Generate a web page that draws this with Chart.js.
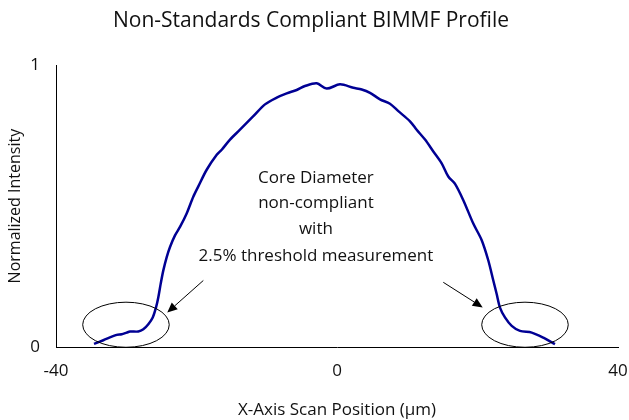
<!DOCTYPE html>
<html>
<head>
<meta charset="utf-8">
<script src="https://cdn.jsdelivr.net/npm/chart.js@4/dist/chart.umd.min.js"></script>
<style>
  html, body { margin: 0; padding: 0; background: #fff; }
  #wrap { width: 629px; height: 420px; }
</style>
</head>
<body>
<div id="wrap"><canvas id="c" width="629" height="420"></canvas></div>
<script>
// ---- data ----
const xPositions = [-34.59, -33.27, -31.36, -30.65, -29.94, -29.47, -28.28, -27.57, -26.86, -26.23,
  -25.77, -25.44, -25.10, -24.73, -24.24, -23.77, -23.06, -22.35, -21.40, -20.46,
  -19.74, -18.55, -17.12, -16.41, -15.23, -13.81, -11.91, -10.25, -8.58, -7.16,
  -5.74, -4.56, -2.89, -1.47, 0.43, 2.32, 3.52, 4.70, 6.12, 7.54,
  8.73, 10.39, 11.34, 12.53, 13.71, 14.90, 15.84, 16.80, 17.98, 19.40,
  20.60, 21.54, 22.25, 22.73, 23.20, 23.91, 24.87, 26.05, 27.72, 29.37, 31.03];
const intensities = [0.011, 0.024, 0.043, 0.045, 0.051, 0.055, 0.055, 0.063, 0.081, 0.105,
  0.140, 0.176, 0.224, 0.271, 0.319, 0.355, 0.396, 0.426, 0.474, 0.533,
  0.570, 0.629, 0.682, 0.700, 0.736, 0.771, 0.819, 0.861, 0.885, 0.900,
  0.912, 0.926, 0.936, 0.917, 0.932, 0.920, 0.914, 0.902, 0.879, 0.863,
  0.837, 0.801, 0.771, 0.736, 0.694, 0.652, 0.605, 0.579, 0.521, 0.438,
  0.379, 0.307, 0.236, 0.188, 0.140, 0.105, 0.075, 0.057, 0.051, 0.033, 0.010];
const xTickValues = [-40, 0, 40];
const yTickValues = [0, 1];
const chartTitle = 'Non-Standards Compliant BIMMF Profile';
const xAxisTitle = 'X-Axis Scan Position (µm)';
const yAxisTitle = 'Normalized Intensity';
const annotationLines = ['Core Diameter', 'non-compliant', 'with', '2.5% threshold measurement'];

// ---- annotation geometry (data units) ----
const annotationTextX = -3;
const annotationTextY = [0.600, 0.511, 0.418, 0.321];
const ellipses = [
  { cx: -30.04, cy: 0.079, rx: 6.16, ry: 0.080 },
  { cx: 26.76, cy: 0.079, rx: 6.16, ry: 0.080 }
];
const arrows = [
  { x1: -19.03, y1: 0.236, x2: -24.16, y2: 0.1225 },
  { x1: 15.13, y1: 0.2296, x2: 20.74, y2: 0.1404 }
];

const FONT = "'Open Sans', 'Noto Sans', sans-serif";

const points = xPositions.map((x, i) => ({ x: x, y: intensities[i] }));

const annotationPlugin = {
  id: 'annot',
  afterDatasetsDraw(chart) {
    const ctx = chart.ctx;
    const xs = chart.scales.x, ys = chart.scales.y;
    ctx.save();
    ctx.strokeStyle = '#000';
    ctx.lineWidth = 1;
    ellipses.forEach(e => {
      const cx = xs.getPixelForValue(e.cx), cy = ys.getPixelForValue(e.cy);
      const rx = Math.abs(xs.getPixelForValue(e.cx + e.rx) - cx);
      const ry = Math.abs(ys.getPixelForValue(e.cy + e.ry) - cy);
      ctx.beginPath();
      ctx.ellipse(cx, cy, rx, ry, 0, 0, Math.PI * 2);
      ctx.stroke();
    });
    arrows.forEach(a => {
      const x1 = xs.getPixelForValue(a.x1), y1 = ys.getPixelForValue(a.y1);
      const x2 = xs.getPixelForValue(a.x2), y2 = ys.getPixelForValue(a.y2);
      const ang = Math.atan2(y2 - y1, x2 - x1);
      const hl = 10, hw = 4.5;
      const bx = x2 - hl * Math.cos(ang), by = y2 - hl * Math.sin(ang);
      ctx.beginPath();
      ctx.moveTo(x1, y1);
      ctx.lineTo(bx, by);
      ctx.stroke();
      ctx.beginPath();
      ctx.fillStyle = '#000';
      ctx.moveTo(x2, y2);
      ctx.lineTo(bx + hw * Math.sin(ang), by - hw * Math.cos(ang));
      ctx.lineTo(bx - hw * Math.sin(ang), by + hw * Math.cos(ang));
      ctx.closePath();
      ctx.fill();
    });
    ctx.fillStyle = '#111';
    ctx.font = '17px ' + FONT;
    ctx.textAlign = 'center';
    ctx.textBaseline = 'middle';
    annotationLines.forEach((t, i) => {
      ctx.fillText(t, xs.getPixelForValue(annotationTextX), ys.getPixelForValue(annotationTextY[i]));
    });
    ctx.restore();
  }
};

new Chart(document.getElementById('c'), {
  type: 'line',
  data: {
    datasets: [{
      data: points,
      borderColor: '#000094',
      borderWidth: 2.5,
      pointRadius: 0,
      tension: 0.3,
      fill: false
    }]
  },
  options: {
    responsive: false,
    animation: false,
    events: [],
    layout: { padding: { left: 4, right: 11, top: 8, bottom: 0 } },
    plugins: {
      legend: { display: false },
      tooltip: { enabled: false },
      title: {
        display: true,
        text: chartTitle,
        color: '#111',
        font: { family: FONT, size: 21, weight: 'normal', lineHeight: 1.2 },
        padding: { top: 0, bottom: 32 }
      }
    },
    scales: {
      x: {
        type: 'linear',
        min: -40, max: 40,
        grid: { display: false },
        border: { display: true, color: '#000', width: 1 },
        afterBuildTicks(scale) { scale.ticks = xTickValues.map(v => ({ value: v })); },
        afterFit(scale) { scale.height = 73; scale.paddingLeft = 0; scale.paddingRight = 0; },
        ticks: {
          color: '#111', padding: 6, maxRotation: 0,
          font: { family: FONT, size: 17 },
          callback: v => String(v)
        },
        title: {
          display: true, text: xAxisTitle, color: '#111',
          font: { family: FONT, size: 17 },
          padding: { top: 24, bottom: 0 }
        }
      },
      y: {
        type: 'linear',
        min: 0, max: 1,
        grid: { display: false },
        border: { display: true, color: '#000', width: 1 },
        afterBuildTicks(scale) { scale.ticks = yTickValues.map(v => ({ value: v })); },
        afterFit(scale) { scale.width = 52; scale.paddingTop = 0; scale.paddingBottom = 0; },
        ticks: {
          color: '#111', padding: 8,
          font: { family: FONT, size: 17 },
          callback: v => String(v)
        },
        title: {
          display: true, text: yAxisTitle, color: '#111',
          font: { family: FONT, size: 16 },
          padding: { top: 2, bottom: 0 }
        }
      }
    }
  },
  plugins: [annotationPlugin]
});
</script>
</body>
</html>
